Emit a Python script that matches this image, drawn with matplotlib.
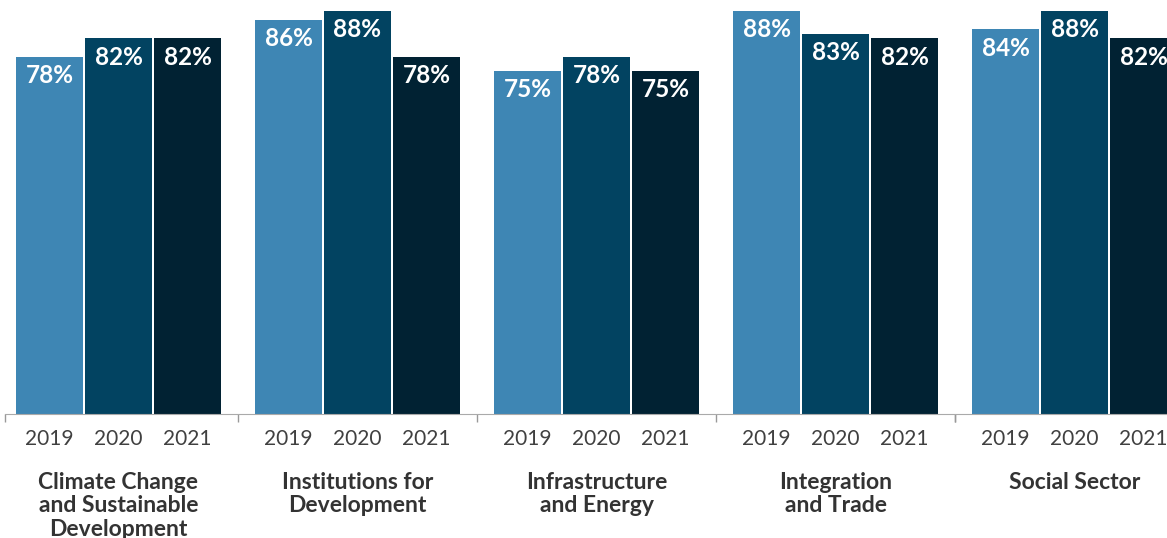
import numpy as np
import matplotlib.pyplot as plt
from matplotlib import transforms

sectors = ['Climate Change\nand Sustainable\nDevelopment', 'Institutions for\nDevelopment',
           'Infrastructure\nand Energy', 'Integration\nand Trade', 'Social Sector']
years = ['2019', '2020', '2021']
vals_2019 = [78, 86, 75, 88, 84]
vals_2020 = [82, 88, 78, 83, 88]
vals_2021 = [82, 78, 75, 82, 82]
colors = ['#3e86b4', '#024361', '#012233']

plt.rcParams['font.family'] = ['Lato', 'DejaVu Sans']

fig = plt.figure(figsize=(11.67, 5.38), dpi=100)
ax = fig.add_axes([0, 0.2305, 1, 0.7695])

# layout in bar-pitch units
first_center = 1.717
group_step = 3.464
bar_w = 0.97
centers = first_center + group_step * np.arange(len(sectors))

series = [vals_2019, vals_2020, vals_2021]
tick_pos, tick_lab = [], []
for k, (vals, col) in enumerate(zip(series, colors)):
    xs = centers + (k - 1)
    ax.bar(xs, vals, width=bar_w, color=col, linewidth=0)
    for x, v in zip(xs, vals):
        ax.annotate(f'{v}%', (x, v), xytext=(0, -13.5), textcoords='offset points',
                    ha='center', va='center', color='white', fontsize=17.5, fontweight='bold')
    tick_pos.extend(xs)
    tick_lab.extend([years[k]] * len(xs))

ax.set_xlim(0, 16.913)
ax.set_ylim(0, 90.4)

ax.set_xticks(tick_pos)
ax.set_xticklabels(tick_lab, fontsize=15, color='#404040')
ax.tick_params(axis='x', which='major', length=0, pad=10.5)

seps = [0.072] + list(centers[:-1] + group_step / 2) + [centers[-1] - group_step / 2]
ax.set_xticks(sorted(set(seps)), minor=True)
ax.tick_params(axis='x', which='minor', length=6, width=1, color='#999999')

ax.set_yticks([])
for s in ['top', 'right', 'left']:
    ax.spines[s].set_visible(False)
ax.spines['bottom'].set_color('#aaaaaa')
ax.spines['bottom'].set_bounds(0.072, 16.913)

trans = transforms.blended_transform_factory(ax.transData, ax.transAxes)
for c, name in zip(centers, sectors):
    ax.text(c, -0.14, name, transform=trans, ha='center', va='top',
            fontsize=16.5, fontweight='bold', color='#333333', linespacing=1.15)

fig.savefig('out.png', dpi=100)
